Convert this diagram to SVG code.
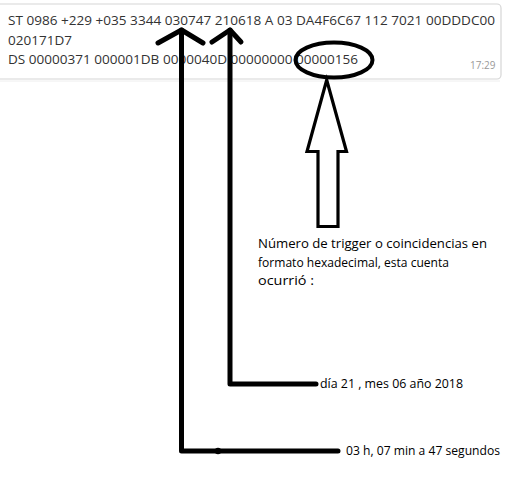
<svg xmlns="http://www.w3.org/2000/svg" width="514" height="477" viewBox="0 0 514 477">
<style>
.msg{font-family:"Open Sans","Noto Sans",sans-serif;font-size:13px;fill:#333}
.time{font-family:"Open Sans","Noto Sans",sans-serif;font-size:10px;fill:#999}
.note{font-family:"Open Sans","Noto Sans",sans-serif;font-size:13px;fill:#000}
.pen{fill:none;stroke:#000;stroke-width:5;stroke-linecap:round;stroke-linejoin:round}
</style>
<rect width="514" height="477" fill="#fff"/>
<g id="bubble">
<rect x="-6" y="4" width="507" height="75" rx="4" fill="#fff" stroke="#d6d6d6" stroke-width="1.2"/>
<line x1="0" y1="81" x2="500" y2="81" stroke="#eee" stroke-width="1"/>
<text class="msg" x="8" y="25" textLength="487" lengthAdjust="spacingAndGlyphs">ST 0986 +229 +035 3344 030747 210618 A 03 DA4F6C67 112 7021 00DDDC00</text>
<text class="msg" x="8" y="45" textLength="64" lengthAdjust="spacingAndGlyphs">020171D7</text>
<text class="msg" x="8" y="64" textLength="350" lengthAdjust="spacingAndGlyphs">DS 00000371 000001DB 0000040D 00000000 00000156</text>
<text class="time" x="470" y="69">17:29</text>
</g>
<g id="connectors">
<path class="pen" d="M158 43 L181.5 30 L203 43"/>
<path class="pen" d="M181.5 30 L181.5 451 L338 451"/>
<circle cx="218" cy="451" r="3.2" fill="#000"/>
<path class="pen" d="M212 42 L230 30 L241 42"/>
<path class="pen" d="M230 30 L230 384 L316 384"/>
<ellipse cx="334" cy="60" rx="38.5" ry="17.5" fill="none" stroke="#000" stroke-width="4"/>
<path d="M326.7 80 L346.5 151.5 L338 151.5 L338 226.5 L318 226.5 L318 151.5 L307 151.5 Z" fill="#fff" stroke="#000" stroke-width="3.2" stroke-linejoin="miter"/>
</g>
<g id="note-trigger">
<text class="note" x="258" y="248" textLength="229" lengthAdjust="spacingAndGlyphs">Número de trigger o coincidencias en</text>
<text class="note" x="258" y="267" textLength="191" lengthAdjust="spacingAndGlyphs">formato hexadecimal, esta cuenta</text>
<text class="note" x="258" y="285" textLength="56" lengthAdjust="spacingAndGlyphs">ocurrió  :</text>
</g>
<g id="note-date">
<text class="note" x="320" y="388" textLength="143" lengthAdjust="spacingAndGlyphs">día 21 , mes 06 año 2018</text>
</g>
<g id="note-time">
<text class="note" x="346" y="455" textLength="154" lengthAdjust="spacingAndGlyphs">03 h, 07 min a 47 segundos</text>
</g>
</svg>
